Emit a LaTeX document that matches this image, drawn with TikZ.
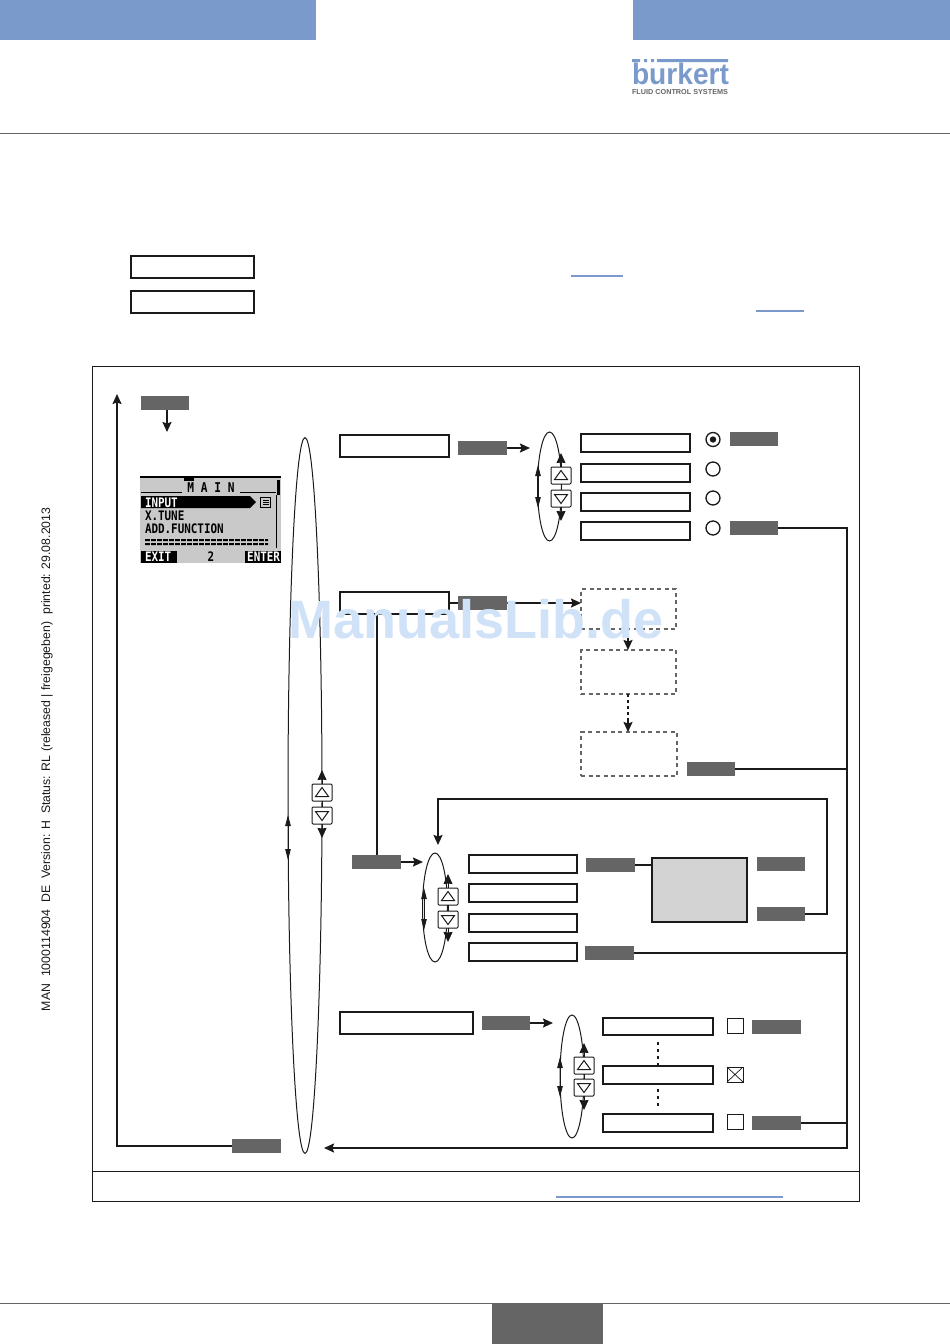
\documentclass[tikz,border=0pt]{standalone}
\usepackage{fontspec}
\usepackage{graphicx}
\setmainfont{Liberation Sans}
\newfontfamily\lcdfont{DejaVu Sans Mono}
\usetikzlibrary{arrows.meta,shapes.geometric,calc}
\definecolor{hdrblue}{HTML}{7A9ACB}
\definecolor{keygray}{HTML}{666566}
\definecolor{lcdgray}{HTML}{C9C9C9}
\definecolor{panelgray}{HTML}{D3D3D3}
\definecolor{ink}{HTML}{1A1A1A}
\definecolor{wmark}{HTML}{CFE2F8}
\tikzset{
  every node/.style={inner sep=0pt,outer sep=0pt},
  rbox/.style={draw=ink,line width=2pt,fill=white},
  keybox/.style={fill=keygray},
  dashbox/.style={draw=keygray,line width=1.4pt,dash pattern=on 4pt off 3.5pt},
  panelbox/.style={draw=ink,line width=2pt,fill=panelgray},
  blankblue/.style={fill=hdrblue},
  blackbar/.style={fill=black},
  flowline/.style={draw=ink,line width=1.7pt},
  flowarrow/.style={draw=ink,line width=1.7pt,-{Stealth[length=10pt,width=9pt,inset=1.5pt]}},
  bigarrow/.style={draw=ink,line width=1pt,-{Stealth[length=10pt,width=9pt,inset=.5pt]}},
  smallhead/.style={draw=ink,line width=.8pt,-{Stealth[length=11pt,width=5.5pt,inset=0pt]}},
  loopring/.style={draw=ink,line width=1pt,ellipse},
  keycap/.style={draw=ink,line width=1pt,fill=white,rounded corners=1pt},
  tri/.style={draw=ink,line width=1pt,fill=white,line join=miter},
  radio/.style={draw=ink,line width=1.3pt,circle,minimum size=14pt,fill=white},
  chk/.style={draw=ink,line width=.8pt,fill=white},
  lcdtxt/.style={font=\lcdfont\bfseries\fontsize{10.9}{12}\selectfont,anchor=west,yscale=1.2},
  dottedlink/.style={draw=ink,line width=1.6pt,dash pattern=on 3pt off 3pt},
}
% rectangle node from two corners
\newcommand\RB[6]{%
  \node[#2,minimum width={((#5)-(#3))*1pt},minimum height={((#6)-(#4))*1pt}] (#1) at ({((#3)+(#5))/2},{((#4)+(#6))/2}) {};}
% up/down key pair, with centre x and tops of both caps
\newcommand\KeyPair[4]{%
  \RB{#1up}{keycap}{#2-10}{#3}{#2+10}{#3+17}
  \RB{#1dn}{keycap}{#2-10}{#4}{#2+10}{#4+17}
  \draw[ink,line width=.8pt] (#1up.south) -- (#1dn.north);
  \draw[tri] ($(#1up.center)+(-6.5,4)$) -- ($(#1up.center)+(6.5,4)$) -- ($(#1up.center)+(0,-5)$) -- cycle;
  \draw[tri] ($(#1dn.center)+(-6.5,-4)$) -- ($(#1dn.center)+(6.5,-4)$) -- ($(#1dn.center)+(0,5)$) -- cycle;
  \draw[bigarrow] (#1up.north) -- ++(0,-14);
  \draw[bigarrow] (#1dn.south) -- ++(0,14);}
\newcommand\Ring[5]{%
  \node[loopring,minimum width=#4pt,minimum height=#5pt] (#1) at (#2,#3) {};}
\begin{document}
\begin{tikzpicture}[x=1pt,y=-1pt]
\useasboundingbox (0,0) rectangle (950,1344);
\fill[white] (0,0) rectangle (950,1344);
% header
\RB{hdrL}{blankblue}{0}{0}{316}{40}
\RB{hdrR}{blankblue}{633}{0}{950}{40}
\draw[keygray,line width=1pt] (0,133) -- (950,133);
% logo
\fill[hdrblue] (632,59) rectangle (640,62) (644,59) rectangle (647,62) (651,59) rectangle (654,62) (657,59) rectangle (728,62);
\node[text=hdrblue,anchor=south west] (logo) at (632,85) {\resizebox{97pt}{21.5pt}{\bfseries burkert}};
\node[text=keygray,anchor=center] (logosub) at (680,92.5) {\resizebox{96pt}{5pt}{\bfseries FLUID CONTROL SYSTEMS}};
% top note boxes
\RB{noteA}{rbox}{131}{256}{254}{278}
\RB{noteB}{rbox}{131}{291}{254}{313}
\draw[hdrblue,line width=1.6pt] (571,276) -- (623,276);
\draw[hdrblue,line width=1.6pt] (756,311) -- (804,311);
% side print
\node[rotate=90,anchor=west,font=\fontsize{12.3}{13}\selectfont,text=ink] (sideprint) at (47,1011) {MAN\ \ 1000114904\ \ DE\ \ Version: H\ \ Status: RL (released | freigegeben)\ \ printed: 29.08.2013};
% frame
\draw[ink,line width=1pt] (92,366) rectangle (859,1201);
\draw[ink,line width=1pt] (92,1171) -- (859,1171);
\draw[hdrblue,line width=1.6pt] (556,1197) -- (783,1197);
% LCD
\RB{lcd}{fill=lcdgray}{140}{477}{281}{563}
\fill[black] (140,476) rectangle (281,478);
\fill[black] (184,476) rectangle (194,481);
\draw[black,line width=1pt] (141,492) -- (182,492) (240,492) -- (276,492);
\fill[black] (277,480) rectangle (280,495);
\draw[black,line width=1pt] (276,495) -- (276,548);
\node[font=\lcdfont\bfseries\fontsize{11.2}{12}\selectfont,yscale=1.2] (lcdtitle) at (211,488) {M A I N};
\fill[black] (141,496) -- (250,496) -- (256,502) -- (250,508) -- (141,508) -- cycle;
\node[lcdtxt,text=white] (lcdA) at (145,502.5) {INPUT};
\node[lcdtxt] (lcdB) at (145,516) {X.TUNE};
\node[lcdtxt] (lcdC) at (145,529) {ADD.FUNCTION};
\fill[black] (145,539) rectangle (268,541) (145,543) rectangle (268,545);
\foreach \i in {0,...,20} {\fill[lcdgray] ({150+\i*6},538) rectangle ({151+\i*6},546);}
\RB{lcdExit}{blackbar}{141}{551}{177}{563}
\RB{lcdEnter}{blackbar}{245}{551}{281}{563}
\node[lcdtxt,text=white] (lcdD) at (145,557) {EXIT};
\node[lcdtxt,text=white,anchor=east] (lcdE) at (280,557) {ENTER};
\node[lcdtxt,anchor=center] (lcdF) at (211,557) {2};
\draw[black,line width=1pt] (260.5,497.5) rectangle (270.5,507.5);
\draw[black,line width=.8pt] (262.5,500.5) -- (268.5,500.5) (262.5,502.5) -- (268.5,502.5) (262.5,504.5) -- (268.5,504.5);
% left return
\RB{gTop}{keybox}{141}{396}{189}{410}
\RB{gBack}{keybox}{232}{1139}{281}{1153}
\coordinate (lcdIn) at (167,432);
\coordinate (topEnd) at (117,394);
\draw[flowarrow] (gTop.south-|lcdIn) -- (lcdIn);
\draw[flowarrow] (gBack.west) -- (gBack.west-|topEnd) -- (topEnd);
% main loop
\Ring{ringM}{305}{795.5}{34}{716}
\KeyPair{kM}{322}{784}{807}
\draw[smallhead] (288,838) -- (288,815);
\draw[smallhead] (288,838) -- (288,860);
% row 1
\RB{inA}{rbox}{340}{435}{449}{457}
\RB{gA}{keybox}{458}{441}{507}{455}
\Ring{ringA}{549.5}{486.5}{24}{109}
\coordinate (ringAin) at (530,448);
\draw[flowarrow] (gA.east) -- (ringAin);
\KeyPair{kA}{561}{467}{490}
\draw[smallhead] (538,486) -- (538,465);
\draw[smallhead] (538,486) -- (538,508);
\RB{a1}{rbox}{581}{434}{690}{452}
\RB{a2}{rbox}{581}{464}{690}{482}
\RB{a3}{rbox}{581}{493}{690}{511}
\RB{a4}{rbox}{581}{522}{690}{540}
\node[radio] (r1) at (713,439.5) {};
\fill[ink] (r1.center) circle (3.2);
\node[radio] (r2) at (713,469) {};
\node[radio] (r3) at (713,498) {};
\node[radio] (r4) at (713,528) {};
\RB{gA1}{keybox}{730}{432}{778}{446}
\RB{gA4}{keybox}{730}{521}{778}{535}
% row 2
\RB{inB}{rbox}{340}{592}{449}{614}
\RB{gB}{keybox}{458}{596}{507}{610}
\RB{d1}{dashbox}{581}{589}{676}{629}
\RB{d2}{dashbox}{581}{650}{676}{694}
\RB{d3}{dashbox}{581}{732}{677}{776}
\draw[flowline] (inB.east) -- (inB.east-|gB.west);
\draw[flowarrow] (gB.east) -- (gB.east-|d1.west);
\draw[flowarrow] (d1.south-|628,0) -- (d2.north-|628,0);
\draw[dottedlink] (d2.south-|628,0) -- ($(d3.north-|628,0)+(0,-10)$);
\draw[flowarrow] ($(d3.north-|628,0)+(0,-12)$) -- (d3.north-|628,0);
\RB{gB3}{keybox}{687}{762}{735}{776}
% sub menu
\RB{gC}{keybox}{352}{855}{401}{869}
\draw[flowline] (377,614) -- (gC.north-|377,0);
\Ring{ringC}{435}{907.5}{25}{109}
\coordinate (ringCin) at (423,862);
\draw[flowarrow] (gC.east) -- (ringCin);
\KeyPair{kC}{448}{888}{911}
\draw[smallhead] (424,907) -- (424,888);
\draw[smallhead] (424,907) -- (424,930);
\RB{c1}{rbox}{469}{855}{577}{873}
\RB{c2}{rbox}{469}{884}{577}{902}
\RB{c3}{rbox}{469}{914}{577}{932}
\RB{c4}{rbox}{469}{943}{577}{961}
\RB{gC1}{keybox}{586}{858}{635}{872}
\RB{gC4}{keybox}{585}{946}{634}{960}
\RB{panel}{panelbox}{652}{858}{747}{922}
\RB{gP1}{keybox}{757}{857}{805}{871}
\RB{gP2}{keybox}{757}{907}{805}{921}
\draw[flowline] (gC1.east) -- (gC1.east-|panel.west);
\coordinate (loopTurn) at (827,799);
\coordinate (loopIn) at (438,845);
\draw[flowarrow] (gP2.east) -- (gP2.east-|loopTurn) -- (loopTurn) -- (loopTurn-|loopIn) -- (loopIn);
% row 4
\RB{inD}{rbox}{340}{1012}{473}{1034}
\RB{gD}{keybox}{482}{1016}{530}{1030}
\Ring{ringD}{572}{1076.5}{24}{123}
\coordinate (ringDin) at (553,1023);
\draw[flowarrow] (gD.east) -- (ringDin);
\KeyPair{kD}{584}{1057}{1079}
\draw[smallhead] (560,1076) -- (560,1057);
\draw[smallhead] (560,1076) -- (560,1097);
\RB{e1}{rbox}{603}{1018}{713}{1035}
\RB{e2}{rbox}{603}{1066}{713}{1084}
\RB{e3}{rbox}{603}{1114}{713}{1132}
\draw[dottedlink,line width=1.4pt,dash pattern=on 3pt off 4pt] (e1.south-|658,0) ++(0,7) -- (e2.north-|658,0);
\draw[dottedlink,line width=1.4pt,dash pattern=on 3pt off 4pt] (e2.south-|658,0) ++(0,5) -- ($(e3.north-|658,0)+(0,-6)$);
\RB{x1}{chk}{727}{1018}{743}{1033}
\RB{x2}{chk}{727}{1067}{743}{1082}
\draw[ink,line width=.7pt] (x2.north west) -- (x2.south east) (x2.north east) -- (x2.south west);
\RB{x3}{chk}{727}{1114}{743}{1129}
\RB{gE1}{keybox}{752}{1020}{801}{1034}
\RB{gE3}{keybox}{752}{1116}{801}{1130}
% exit bus
\coordinate (busTop) at (847,527);
\coordinate (busBot) at (847,1148);
\coordinate (busEnd) at (324,1148);
\draw[flowline] (gA4.east) -- (gA4.east-|busTop) -- (busTop);
\draw[flowarrow] (busTop) -- (busBot) -- (busEnd);
\draw[flowline] (gB3.east) -- (gB3.east-|busTop);
\draw[flowline] (gC4.east) -- (gC4.east-|busTop);
\draw[flowline] (gE3.east) -- (gE3.east-|busTop);
% watermark
\node[text=wmark,font=\bfseries\fontsize{54}{56}\selectfont] (wm) at (476,619) {ManualsLib.de};
% footer
\draw[keygray,line width=1pt] (0,1303) -- (950,1303);
\RB{pageTab}{keybox}{492}{1303}{603}{1344}
\end{tikzpicture}
\end{document}
